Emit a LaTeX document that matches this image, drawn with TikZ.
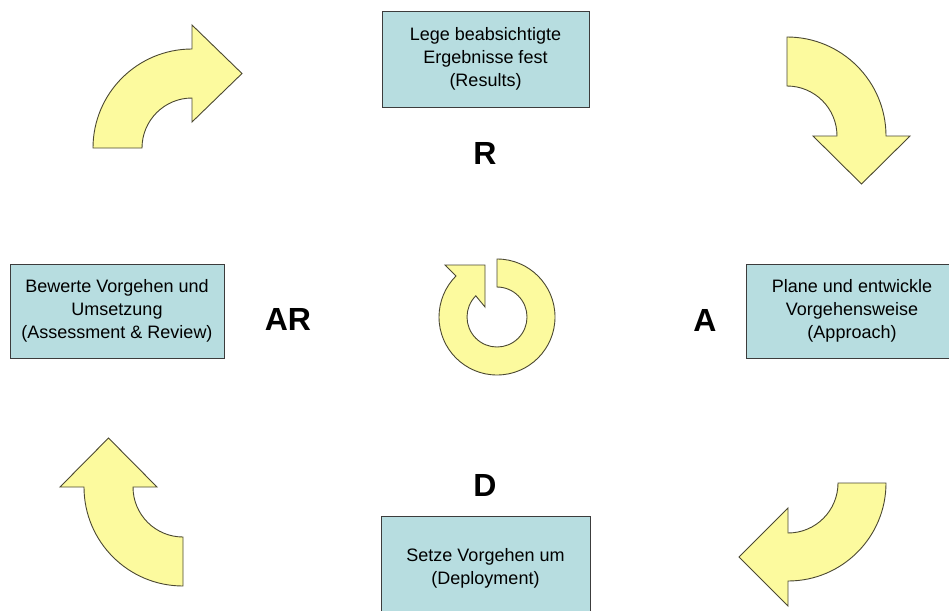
\documentclass[tikz,border=0pt]{standalone}
\usepackage{fontspec}
\setmainfont{Liberation Sans}
\definecolor{arrowfill}{RGB}{252,250,158}
\definecolor{arrowline}{RGB}{75,72,50}
\definecolor{boxfill}{RGB}{183,221,224}
\definecolor{boxline}{RGB}{60,60,60}
\begin{document}
\begin{tikzpicture}[x=1pt,y=1pt,
  stepbox/.style={draw=boxline, fill=boxfill, line width=0.9pt, align=center,
    font=\fontsize{18}{23}\selectfont, inner sep=2pt},
  letter/.style={font=\fontsize{32}{36}\selectfont\bfseries, inner sep=0pt},
  curvearrow/.style={draw=arrowline, fill=arrowfill, line width=0.9pt, line join=miter}]
\useasboundingbox (0,0) rectangle (949,-610);

% boxes
\node[stepbox, minimum width=207pt, minimum height=96pt] (results) at (485.5,-59)
  {Lege beabsichtigte\\Ergebnisse fest\\(Results)};
\node[stepbox, minimum width=214pt, minimum height=94pt] (assess) at (117,-311)
  {Bewerte Vorgehen und\\Umsetzung\\(Assessment \& Review)};
\node[stepbox, minimum width=212pt, minimum height=94pt] (approach) at (852,-311)
  {Plane und entwickle\\Vorgehensweise\\(Approach)};
\node[stepbox, minimum width=209pt, minimum height=104pt] (deploy) at (485.5,-568)
  {Setze Vorgehen um\\(Deployment)};

% letters
\node[letter] (lR) at (485,-153) {R};
\node[letter] (lAR) at (288,-319) {AR};
\node[letter] (lA) at (705,-320) {A};
\node[letter] (lD) at (485,-485) {D};

% curved arrows
% top-left
\draw[curvearrow] (93,-148) arc[start angle=180,end angle=90,radius=99]
  -- (192,-25) -- (242,-73.5) -- (192,-122) -- (192,-98)
  arc[start angle=90,end angle=180,radius=50] -- cycle;
% top-right
\draw[curvearrow] (787,-37) arc[start angle=90,end angle=0,radius=99]
  -- (910,-136) -- (861.5,-184) -- (813,-136) -- (837,-136)
  arc[start angle=0,end angle=90,radius=50] -- cycle;
% bottom-right
\draw[curvearrow] (886,-483) arc[start angle=0,end angle=-90,radius=98]
  -- (788,-606) -- (739,-557) -- (788,-508) -- (788,-533)
  arc[start angle=-90,end angle=0,radius=50] -- cycle;
% bottom-left
\draw[curvearrow] (183,-586) arc[start angle=-90,end angle=-180,radius=99]
  -- (60,-487) -- (108.5,-438) -- (157,-487) -- (133,-487)
  arc[start angle=180,end angle=270,radius=50] -- cycle;

% central circular arrow
\draw[curvearrow] (497,-259) arc[start angle=90,end angle=-225,radius=58]
  -- (445,-265) -- (485,-265) -- (485,-307) -- (475.8,-295.8)
  arc[start angle=-225,end angle=90,radius=30] -- cycle;
\end{tikzpicture}
\end{document}
